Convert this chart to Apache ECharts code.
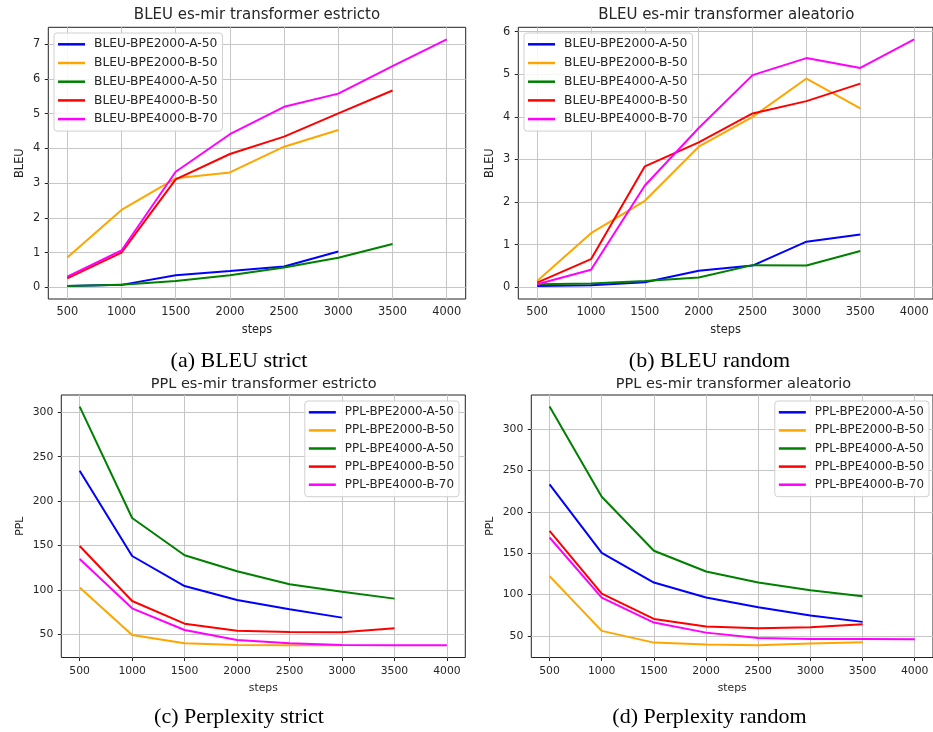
<!DOCTYPE html>
<html>
<head>
<meta charset="utf-8">
<script src="https://cdn.jsdelivr.net/npm/echarts@6/dist/echarts.min.js"></script>
<style>html,body{margin:0;padding:0;background:#fff}#c{width:933px;height:732px}</style>
</head>
<body>
<div id="c"></div>
<script>
const steps = [500, 1000, 1500, 2000, 2500, 3000, 3500, 4000];
const bleuNames = ['BLEU-BPE2000-A-50','BLEU-BPE2000-B-50','BLEU-BPE4000-A-50','BLEU-BPE4000-B-50','BLEU-BPE4000-B-70'];
const pplNames  = ['PPL-BPE2000-A-50','PPL-BPE2000-B-50','PPL-BPE4000-A-50','PPL-BPE4000-B-50','PPL-BPE4000-B-70'];
const colors = ['#0000ff','#ffa500','#008000','#ff0000','#ff00ff'];

// (a) BLEU strict
const bleuStrictA2000 = [0.04, 0.07, 0.35, 0.47, 0.60, 1.03];
const bleuStrictB2000 = [0.86, 2.23, 3.14, 3.31, 4.05, 4.53];
const bleuStrictA4000 = [0.04, 0.07, 0.18, 0.35, 0.57, 0.85, 1.25];
const bleuStrictB4000 = [0.26, 1.00, 3.11, 3.84, 4.34, 5.01, 5.67];
const bleuStrictB4000_70 = [0.31, 1.06, 3.33, 4.41, 5.20, 5.58, 6.37, 7.14];
// (b) BLEU random
const bleuRandomA2000 = [0.03, 0.05, 0.12, 0.39, 0.51, 1.07, 1.24];
const bleuRandomB2000 = [0.15, 1.27, 2.03, 3.30, 4.00, 4.90, 4.20];
const bleuRandomA4000 = [0.07, 0.09, 0.15, 0.23, 0.52, 0.51, 0.85];
const bleuRandomB4000 = [0.11, 0.66, 2.84, 3.40, 4.08, 4.37, 4.78];
const bleuRandomB4000_70 = [0.07, 0.41, 2.39, 3.74, 4.98, 5.38, 5.15, 5.82];
// (c) PPL strict
const pplStrictA2000 = [234.3, 138.2, 104.4, 88.7, 78.2, 68.8];
const pplStrictB2000 = [102.6, 49.2, 39.9, 38.0, 37.6, 37.6];
const pplStrictA4000 = [306.4, 181.0, 139.0, 121.0, 106.3, 98.0, 90.2];
const pplStrictB4000 = [149.5, 87.5, 62.0, 54.1, 52.6, 52.3, 56.8];
const pplStrictB4000_70 = [134.8, 79.3, 54.9, 43.6, 39.9, 38.0, 37.6, 37.6];
// (d) PPL random
const pplRandomA2000 = [233.4, 150.6, 114.6, 96.4, 84.7, 74.6, 67.0];
const pplRandomB2000 = [122.3, 56.1, 41.9, 39.5, 38.7, 40.7, 42.3];
const pplRandomA4000 = [327.5, 218.4, 153.0, 128.0, 114.6, 105.3, 98.0];
const pplRandomB4000 = [177.2, 101.3, 70.6, 61.3, 59.3, 60.5, 64.1];
const pplRandomB4000_70 = [169.1, 96.4, 66.2, 54.0, 47.6, 46.4, 46.4, 46.0];

const bleuTicksA = [0, 1, 2, 3, 4, 5, 6, 7];
const bleuTicksB = [0, 1, 2, 3, 4, 5, 6];
const pplTicks = [50, 100, 150, 200, 250, 300];

const titles = ['BLEU es-mir transformer estricto','BLEU es-mir transformer aleatorio','PPL es-mir transformer estricto','PPL es-mir transformer aleatorio'];
const captions = ['(a) BLEU strict','(b) BLEU random','(c) Perplexity strict','(d) Perplexity random'];

const panels = [
  {names: bleuNames, data: [bleuStrictA2000, bleuStrictB2000, bleuStrictA4000, bleuStrictB4000, bleuStrictB4000_70], yTicks: bleuTicksA, yName: 'BLEU'},
  {names: bleuNames, data: [bleuRandomA2000, bleuRandomB2000, bleuRandomA4000, bleuRandomB4000, bleuRandomB4000_70], yTicks: bleuTicksB, yName: 'BLEU'},
  {names: pplNames, data: [pplStrictA2000, pplStrictB2000, pplStrictA4000, pplStrictB4000, pplStrictB4000_70], yTicks: pplTicks, yName: 'PPL'},
  {names: pplNames, data: [pplRandomA2000, pplRandomB2000, pplRandomA4000, pplRandomB4000, pplRandomB4000_70], yTicks: pplTicks, yName: 'PPL'}
];

// layout (pixels)
const grids = [
  {left: 48.3, top: 27.3, width: 417.4, height: 271.7},
  {left: 518.3, top: 27.3, width: 417.4, height: 271.7},
  {left: 61.3, top: 395, width: 404, height: 262.5},
  {left: 531.3, top: 395, width: 404.4, height: 262.5}
];
const yRanges = [[-0.337, 7.49], [-0.275, 6.103], [23.9, 319.5], [23.9, 341.5]];
const tickFont = [11.4, 11.4, 10.8, 10.8];
const legendFont = [12.3, 12.3, 11.9, 11.9];
const titleFont = [15, 15, 14.5, 14.5];
const titlePos = [[257, 15], [726.3, 15], [263.7, 384], [733.5, 384]];
const captionPos = [[239, 361], [709.5, 361], [239, 717], [709.5, 717]];
const FONT = '"DejaVu Sans"';
const TXT = '#262626';
const GRIDC = '#c6c6c6';

const xAxes = [], yAxes = [], series = [], legends = [], graphics = [];
panels.forEach((p, i) => {
  const fs = tickFont[i];
  xAxes.push({
    type: 'value', gridIndex: i, min: 325, max: 4175,
    name: 'steps', nameLocation: 'middle', nameGap: i < 2 ? 26 : 25,
    nameTextStyle: {fontFamily: FONT, fontSize: fs, color: TXT},
    axisLine: {show: false},
    axisTick: {show: true, length: 3.5, lineStyle: {color: '#222', width: 1}, customValues: steps},
    axisLabel: {customValues: steps, fontFamily: FONT, fontSize: fs, color: TXT, margin: 8, formatter: v => String(v)},
    splitLine: {show: false}
  });
  yAxes.push({
    type: 'value', gridIndex: i, min: yRanges[i][0], max: yRanges[i][1],
    name: p.yName, nameLocation: 'middle', nameGap: i < 2 ? 23 : 36,
    nameTextStyle: {fontFamily: FONT, fontSize: fs, color: TXT},
    axisLine: {show: false},
    axisTick: {show: true, length: 3.5, lineStyle: {color: '#222', width: 1}, customValues: p.yTicks},
    axisLabel: {customValues: p.yTicks, fontFamily: FONT, fontSize: fs, color: TXT, margin: 8, formatter: v => String(v)},
    splitLine: {show: false}
  });
  // grid lines at the tick positions, drawn beneath the data lines
  series.push({
    type: 'line', name: 'grid' + i, xAxisIndex: i, yAxisIndex: i, data: [], z: 1,
    silent: true, animation: false,
    markLine: {
      z: 1, silent: true, symbol: ['none', 'none'], animation: false,
      label: {show: false},
      lineStyle: {color: GRIDC, width: 1, type: 'solid'},
      emphasis: {disabled: true},
      data: steps.map(s => ({xAxis: s})).concat(p.yTicks.map(t => ({yAxis: t})))
    }
  });
  p.data.forEach((vals, k) => {
    series.push({
      type: 'line', name: p.names[k], xAxisIndex: i, yAxisIndex: i, z: 3,
      data: vals.map((v, j) => [steps[j], v]),
      symbol: 'none', showSymbol: false, animation: false,
      lineStyle: {color: colors[k], width: 2},
      itemStyle: {color: colors[k]}
    });
  });
  const lg = {
    data: p.names, orient: 'vertical', icon: 'rect', itemWidth: 27, itemHeight: 2.5,
    itemGap: i < 2 ? 4.7 : 4.1, z: 10,
    textStyle: {fontFamily: FONT, fontSize: legendFont[i], color: TXT, lineHeight: 14, padding: [0, 0, 0, 4]},
    backgroundColor: 'rgba(255,255,255,0.85)', borderColor: '#d0d0d0', borderWidth: 1, borderRadius: 3,
    padding: [4.3, 5, 5, 4], selectedMode: false
  };
  if (i === 0) { lg.left = 54; lg.top = 33; }
  if (i === 1) { lg.left = 524; lg.top = 33; }
  if (i === 2) { lg.right = 474; lg.top = 401; }
  if (i === 3) { lg.right = 4; lg.top = 401; }
  legends.push(lg);
  graphics.push({
    type: 'text', x: titlePos[i][0], y: titlePos[i][1],
    style: {text: titles[i], font: titleFont[i] + 'px ' + FONT, fill: TXT, textAlign: 'center', textVerticalAlign: 'middle'}
  });
  graphics.push({
    type: 'text', x: captionPos[i][0], y: captionPos[i][1],
    style: {text: captions[i], font: '22px "Liberation Serif"', fill: '#000', textAlign: 'center', textVerticalAlign: 'middle'}
  });
});

const chart = echarts.init(document.getElementById('c'), null, {renderer: 'canvas'});
chart.setOption({
  animation: false,
  backgroundColor: '#fff',
  grid: grids.map(g => Object.assign({show: true, borderColor: '#222', borderWidth: 1, backgroundColor: 'transparent', containLabel: false}, g)),
  xAxis: xAxes, yAxis: yAxes, series: series, legend: legends, graphic: graphics
});
</script>
</body>
</html>
